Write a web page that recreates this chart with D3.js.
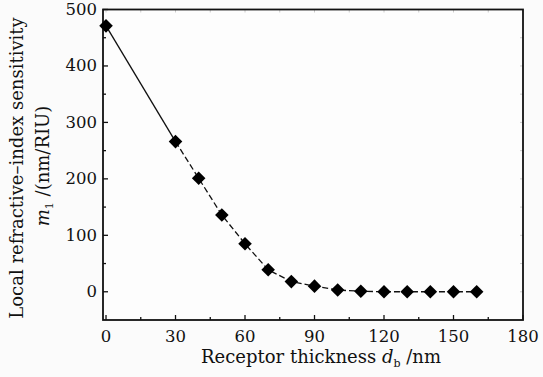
<!DOCTYPE html>
<html><head><meta charset="utf-8">
<script src="https://cdn.jsdelivr.net/npm/d3@7"></script>
<style>
html,body{margin:0;padding:0;background:#fbfbfb;}
svg{display:block;}
text{font-family:"DejaVu Serif","Liberation Serif",serif;fill:#111;}
</style></head>
<body>
<svg id="chart" width="543" height="377"></svg>
<script>
const thickness = [0, 30, 40, 50, 60, 70, 80, 90, 100, 110, 120, 130, 140, 150, 160];
const sensitivity = [471, 266, 201, 136, 85, 39, 18, 10, 3, 1, 0, 0, 0, 0, 0];
const xTicks = [0, 30, 60, 90, 120, 150, 180];
const xMinor = [15, 45, 75, 105, 135, 165];
const yTicks = [0, 100, 200, 300, 400, 500];
const yMinor = [50, 150, 250, 350, 450];

const svg = d3.select("#chart");
const L = 103, R = 523, T = 9.5, B = 320;
const x = d3.scaleLinear().domain([-1.3, 180]).range([L, R]);
const y = d3.scaleLinear().domain([-50, 500]).range([B, T]);

svg.append("rect").attr("x", L).attr("y", T).attr("width", R - L).attr("height", B - T)
  .attr("fill", "#fdfdfd");

// inward ticks
const tk = svg.append("g").attr("stroke", "#111").attr("stroke-width", 1.3);
xTicks.forEach(v => tk.append("line").attr("x1", x(v)).attr("x2", x(v)).attr("y1", B).attr("y2", B - 5));
xMinor.forEach(v => tk.append("line").attr("x1", x(v)).attr("x2", x(v)).attr("y1", B).attr("y2", B - 3));
yTicks.forEach(v => tk.append("line").attr("x1", L).attr("x2", L + 5).attr("y1", y(v)).attr("y2", y(v)));
yMinor.forEach(v => tk.append("line").attr("x1", L).attr("x2", L + 3).attr("y1", y(v)).attr("y2", y(v)));
// faint mirrored ticks
const tk2 = svg.append("g").attr("stroke", "#ccc").attr("stroke-width", 1);
xTicks.concat(xMinor).forEach(v => tk2.append("line").attr("x1", x(v)).attr("x2", x(v)).attr("y1", T).attr("y2", T + 3));
yTicks.concat(yMinor).forEach(v => tk2.append("line").attr("x1", R).attr("x2", R - 3).attr("y1", y(v)).attr("y2", y(v)));

// frame
svg.append("rect").attr("x", L).attr("y", T).attr("width", R - L).attr("height", B - T)
  .attr("fill", "none").attr("stroke", "#111").attr("stroke-width", 1.8);

// tick labels
svg.append("g").selectAll("text").data(xTicks).join("text")
  .attr("x", d => x(d)).attr("y", 342).attr("text-anchor", "middle")
  .attr("font-size", 16.5).text(d => d);
svg.append("g").selectAll("text").data(yTicks).join("text")
  .attr("x", 97).attr("y", d => y(d) + 5.5).attr("text-anchor", "end")
  .attr("font-size", 16.5).text(d => d);

// line
const line = d3.line().x(d => x(d[0])).y(d => y(d[1]));
const pts = thickness.map((t, i) => [t, sensitivity[i]]);
svg.append("path").attr("d", line(pts.slice(0, 2))).attr("fill", "none")
  .attr("stroke", "#111").attr("stroke-width", 1.3);
svg.append("path").attr("d", line(pts.slice(1))).attr("fill", "none")
  .attr("stroke", "#111").attr("stroke-width", 1.3).attr("stroke-dasharray", "6,3");

// markers
const sym = d3.symbol().type(d3.symbolSquare).size(92);
svg.append("g").selectAll("path").data(pts).join("path")
  .attr("d", sym)
  .attr("transform", d => `translate(${x(d[0])},${y(d[1])}) rotate(45)`)
  .attr("fill", "#000");

// x title
const xt = svg.append("text").attr("x", 321).attr("y", 363).attr("text-anchor", "middle").attr("font-size", 18);
xt.append("tspan").text("Receptor thickness ");
xt.append("tspan").attr("font-style", "italic").text("d");
xt.append("tspan").attr("font-size", 11).attr("dy", 4).text("b");
xt.append("tspan").attr("dy", -4).text(" /nm");

// y title
svg.append("text").attr("transform", "translate(23,168) rotate(-90)")
  .attr("text-anchor", "middle").attr("font-size", 18).text("Local refractive–index sensitivity");
const yt2 = svg.append("text").attr("transform", "translate(49,166) rotate(-90)")
  .attr("text-anchor", "middle").attr("font-size", 18);
yt2.append("tspan").attr("font-style", "italic").text("m");
yt2.append("tspan").attr("font-size", 11).attr("dy", 4).text("1");
yt2.append("tspan").attr("dy", -4).text(" /(nm/RIU)");
</script>
</body></html>
